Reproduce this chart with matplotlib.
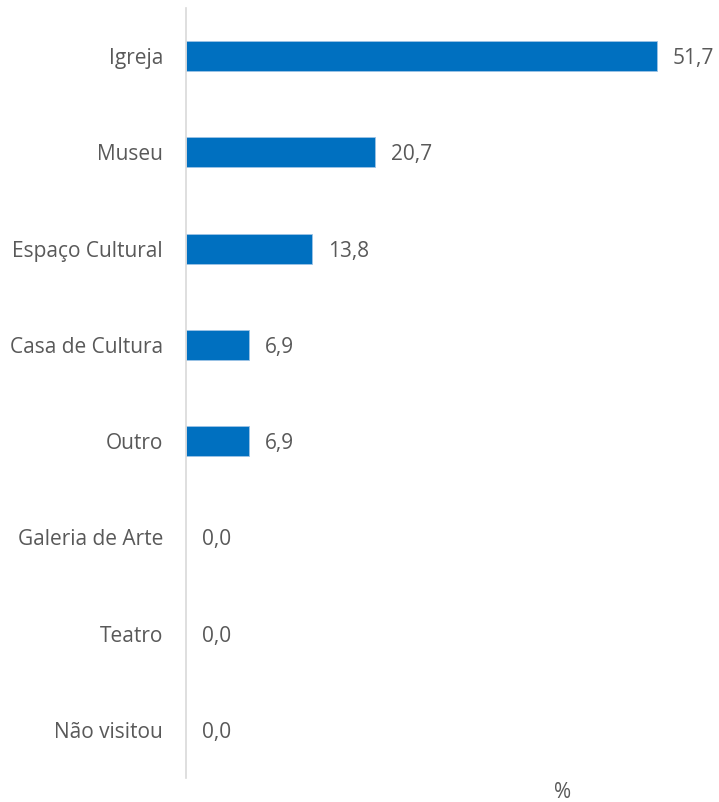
import matplotlib.pyplot as plt

categories = ['Igreja', 'Museu', 'Espaço Cultural', 'Casa de Cultura',
              'Outro', 'Galeria de Arte', 'Teatro', 'Não visitou']
values = [51.7, 20.7, 13.8, 6.9, 6.9, 0.0, 0.0, 0.0]
value_labels = ['51,7', '20,7', '13,8', '6,9', '6,9', '0,0', '0,0', '0,0']

TEXT = '#595959'
BAR = '#0070C0'
FONT = 'Open Sans'


def main():
    fig = plt.figure(figsize=(7.19, 8.02), dpi=100)
    W, H = 719, 802
    left, right, top, bottom = 186, 719, 8, 778
    ax = fig.add_axes([left / W, 1 - bottom / H, (right - left) / W, (bottom - top) / H])

    y = list(range(len(categories)))
    bars = ax.barh(y, values, height=0.31, color=BAR, edgecolor='#9DC3E6', linewidth=0.6)
    for b, v in zip(bars, values):
        if v == 0:
            b.set_linewidth(0)

    xmax = 51.7 * (right - left) / (657 - left)
    ax.set_xlim(0, xmax)
    ax.set_ylim(len(categories) - 0.5, -0.5)

    for yi, v, lab in zip(y, values, value_labels):
        ax.annotate(lab, (v, yi), xytext=(11.5, 0), textcoords='offset points',
                    ha='left', va='center_baseline', fontsize=15, color=TEXT,
                    family=FONT, annotation_clip=False)

    ax.set_yticks(y)
    ax.set_yticklabels(categories, fontsize=15, color=TEXT, family=FONT)
    ax.tick_params(axis='y', length=0, pad=16.5)
    ax.set_xticks([])

    for s in ['top', 'right', 'bottom']:
        ax.spines[s].set_visible(False)
    ax.spines['left'].set_color('#D9D9D9')
    ax.spines['left'].set_linewidth(1.2)

    fig.text(563 / W, 1 - 793 / H, '%', ha='center', va='center',
             fontsize=15, color=TEXT, family=FONT)

    fig.savefig('out.png', dpi=100)


if __name__ == '__main__':
    main()
